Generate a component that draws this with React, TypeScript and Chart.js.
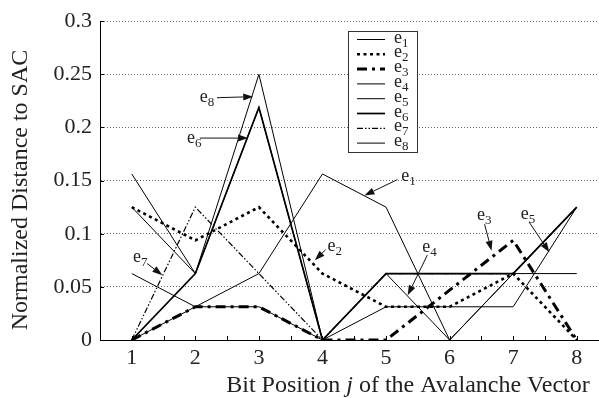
import React, { useEffect, useRef } from 'react';
import { Chart, registerables } from 'chart.js';

Chart.register(...registerables);

// ---- data ----
const BIT_POSITIONS = [1, 2, 3, 4, 5, 6, 7, 8];
const E1 = [0.0625, 0.03125, 0.0625, 0.15625, 0.125, 0, 0.0625, 0.125];
const E2 = [0.125, 0.09375, 0.125, 0.0625, 0.03125, 0.03125, 0.0625, 0];
const E3 = [0, 0.03125, 0.03125, 0, 0, 0.046875, 0.09375, 0];
const E4 = [0.125, 0.0625, 0.21875, 0, 0.0625, 0, 0.0625, 0.125];
const E5 = [0, 0.03125, 0.03125, 0, 0.03125, 0.03125, 0.03125, 0.125];
const E6 = [0, 0.0625, 0.21875, 0, 0.0625, 0.0625, 0.0625, 0.125];
const E7 = [0, 0.125, 0.0625, 0, 0.0625, 0.0625, 0.0625, 0.125];
const E8 = [0.15625, 0.0625, 0.25, 0, 0.0625, 0.0625, 0.0625, 0.0625];
const SERIES = [E1, E2, E3, E4, E5, E6, E7, E8];
const SERIES_SUBS = ['1', '2', '3', '4', '5', '6', '7', '8'];

const Y_TICKS = [0, 0.05, 0.1, 0.15, 0.2, 0.25, 0.3];
const Y_TICK_LABELS = ['0', '0.05', '0.1', '0.15', '0.2', '0.25', '0.3'];
const X_TICKS = [1, 2, 3, 4, 5, 6, 7, 8];
const X_MINOR_TICKS = [0.5, 1, 1.5, 2, 2.5, 3, 3.5, 4, 4.5, 5, 5.5, 6, 6.5, 7, 7.5, 8];
const Y_TITLE = 'Normalized Distance to SAC';
const X_TITLE_PARTS = ['Bit Position ', 'j', ' of the Avalanche Vector'];

// annotation callouts (data coordinates)
const CALLOUTS = [
  { sub: '8', text: [2.07, 0.224], from: [2.34, 0.228], to: [2.91, 0.229] },
  { sub: '6', text: [1.87, 0.185], from: [2.07, 0.19], to: [2.83, 0.19] },
  { sub: '7', text: [1.02, 0.073], from: [1.24, 0.072], to: [1.48, 0.061] },
  { sub: '2', text: [4.08, 0.084], from: [4.05, 0.085], to: [3.88, 0.075] },
  { sub: '4', text: [5.57, 0.083], from: [5.65, 0.08], to: [5.34, 0.042] },
  { sub: '1', text: [5.24, 0.15], from: [5.18, 0.151], to: [4.66, 0.136] },
  { sub: '3', text: [6.43, 0.1125], from: [6.55, 0.109], to: [6.66, 0.084] },
  { sub: '5', text: [7.12, 0.114], from: [7.25, 0.111], to: [7.57, 0.0825] },
];

// ---- styles ----
const STYLES = [
  { width: 1, dash: [] as number[] },
  { width: 2.6, dash: [3, 3.5] },
  { width: 3, dash: [10, 5, 3, 5] },
  { width: 1, dash: [] },
  { width: 1, dash: [] },
  { width: 1.7, dash: [] },
  { width: 1.2, dash: [6, 2, 1.5, 2, 1.5, 2] },
  { width: 1, dash: [] },
];

const SERIF = "'Liberation Serif', 'DejaVu Serif', serif";

function drawE(ctx: CanvasRenderingContext2D, x: number, y: number, sub: string) {
  ctx.fillStyle = '#222';
  ctx.textAlign = 'left';
  ctx.textBaseline = 'alphabetic';
  ctx.font = `18px ${SERIF}`;
  ctx.fillText('e', x, y);
  const w = ctx.measureText('e').width;
  ctx.font = `13px ${SERIF}`;
  ctx.fillText(sub, x + w, y + 4);
}

function drawArrow(ctx: CanvasRenderingContext2D, x1: number, y1: number, x2: number, y2: number) {
  const ang = Math.atan2(y2 - y1, x2 - x1);
  const hl = 10, hw = 3.5;
  const bx = x2 - hl * Math.cos(ang), by = y2 - hl * Math.sin(ang);
  ctx.strokeStyle = '#111';
  ctx.lineWidth = 1;
  ctx.setLineDash([]);
  ctx.beginPath();
  ctx.moveTo(x1, y1);
  ctx.lineTo(bx, by);
  ctx.stroke();
  ctx.fillStyle = '#111';
  ctx.beginPath();
  ctx.moveTo(x2, y2);
  ctx.lineTo(bx + hw * Math.sin(ang), by - hw * Math.cos(ang));
  ctx.lineTo(bx - hw * Math.sin(ang), by + hw * Math.cos(ang));
  ctx.closePath();
  ctx.fill();
}

const decorPlugin = {
  id: 'decor',
  afterDraw(chart: any) {
    const ctx: CanvasRenderingContext2D = chart.ctx;
    const xs = chart.scales.x;
    const ys = chart.scales.y;
    const area = chart.chartArea;
    ctx.save();
    // inner ticks
    ctx.strokeStyle = '#000';
    ctx.lineWidth = 1;
    ctx.setLineDash([]);
    X_MINOR_TICKS.forEach((v) => {
      const px = Math.round(xs.getPixelForValue(v)) + 0.5;
      ctx.beginPath();
      ctx.moveTo(px, area.bottom);
      ctx.lineTo(px, area.bottom - 4);
      ctx.stroke();
    });
    Y_TICKS.forEach((v) => {
      const py = Math.round(ys.getPixelForValue(v)) + 0.5;
      ctx.beginPath();
      ctx.moveTo(area.left, py);
      ctx.lineTo(area.left + 4, py);
      ctx.stroke();
    });

    // legend
    const lx = 348.5, ly = 31.5, lw = 69, lh = 121;
    ctx.fillStyle = '#fff';
    ctx.fillRect(lx, ly, lw, lh);
    ctx.strokeStyle = '#333';
    ctx.lineWidth = 1;
    ctx.strokeRect(lx, ly, lw, lh);
    chart.data.datasets.forEach((ds: any, i: number) => {
      const y = 39.5 + i * 14.8;
      ctx.save();
      ctx.strokeStyle = '#000';
      ctx.lineWidth = ds.borderWidth;
      ctx.setLineDash(ds.borderDash || []);
      ctx.beginPath();
      ctx.moveTo(357, y);
      ctx.lineTo(385, y);
      ctx.stroke();
      ctx.restore();
      drawE(ctx, 394, y + 3, SERIES_SUBS[i]);
    });

    // callouts
    CALLOUTS.forEach((c) => {
      drawArrow(
        ctx,
        xs.getPixelForValue(c.from[0]),
        ys.getPixelForValue(c.from[1]),
        xs.getPixelForValue(c.to[0]),
        ys.getPixelForValue(c.to[1])
      );
      drawE(ctx, xs.getPixelForValue(c.text[0]), ys.getPixelForValue(c.text[1]), c.sub);
    });

    // y title
    ctx.fillStyle = '#222';
    ctx.font = `24px ${SERIF}`;
    ctx.save();
    ctx.translate(21, 190);
    ctx.rotate(-Math.PI / 2);
    ctx.textAlign = 'center';
    ctx.textBaseline = 'middle';
    ctx.fillText(Y_TITLE, 0, 0);
    ctx.restore();

    // x title with italic j
    const fonts = [`24px ${SERIF}`, `italic 24px ${SERIF}`, `24px ${SERIF}`];
    let total = 0;
    const widths = X_TITLE_PARTS.map((t, i) => {
      ctx.font = fonts[i];
      const w = ctx.measureText(t).width;
      total += w;
      return w;
    });
    let x = 408 - total / 2;
    ctx.textAlign = 'left';
    ctx.textBaseline = 'alphabetic';
    X_TITLE_PARTS.forEach((t, i) => {
      ctx.font = fonts[i];
      ctx.fillText(t, x, 392);
      x += widths[i];
    });
    ctx.restore();
  },
};

export default function App() {
  const ref = useRef<HTMLCanvasElement | null>(null);
  useEffect(() => {
    document.body.style.margin = '0';
    const canvas = ref.current;
    if (!canvas) return;
    const chart = new Chart(canvas, {
      type: 'line',
      data: {
        datasets: SERIES.map((s, i) => ({
          label: 'e' + SERIES_SUBS[i],
          data: BIT_POSITIONS.map((x, j) => ({ x, y: s[j] })),
          borderColor: '#000',
          backgroundColor: '#000',
          borderWidth: STYLES[i].width,
          borderDash: STYLES[i].dash,
          pointRadius: 0,
          tension: 0,
          fill: false,
        })),
      },
      options: {
        responsive: false,
        animation: false,
        events: [],
        layout: { padding: { top: 20, right: 0, left: 0, bottom: 0 } },
        plugins: { legend: { display: false }, tooltip: { enabled: false } },
        scales: {
          x: {
            type: 'linear',
            min: 0.5,
            max: 8.35,
            afterBuildTicks: (s: any) => {
              s.ticks = X_TICKS.map((v) => ({ value: v }));
            },
            afterFit: (s: any) => {
              s.height = 58;
            },
            ticks: {
              autoSkip: false,
              maxRotation: 0,
              padding: 5,
              color: '#222',
              font: { family: SERIF, size: 22 },
              callback: (v: any) => String(v),
            },
            grid: { display: false, drawTicks: false },
            border: { display: true, color: '#000', width: 1 },
          },
          y: {
            type: 'linear',
            min: 0,
            max: 0.3,
            afterBuildTicks: (s: any) => {
              s.ticks = Y_TICKS.map((v) => ({ value: v }));
            },
            afterFit: (s: any) => {
              s.width = 100;
            },
            ticks: {
              padding: 8,
              color: '#222',
              font: { family: SERIF, size: 22 },
              callback: (_v: any, i: number) => Y_TICK_LABELS[i],
            },
            grid: { display: true, drawTicks: false, color: '#666', lineWidth: 1 },
            border: { display: true, color: '#000', width: 1, dash: [1, 2] },
          },
        },
      },
      plugins: [decorPlugin],
    });
    return () => chart.destroy();
  }, []);
  return (
    <div style={{ width: 599, height: 398, background: '#fff' }}>
      <canvas ref={ref} width={599} height={398} style={{ display: 'block' }} />
    </div>
  );
}
